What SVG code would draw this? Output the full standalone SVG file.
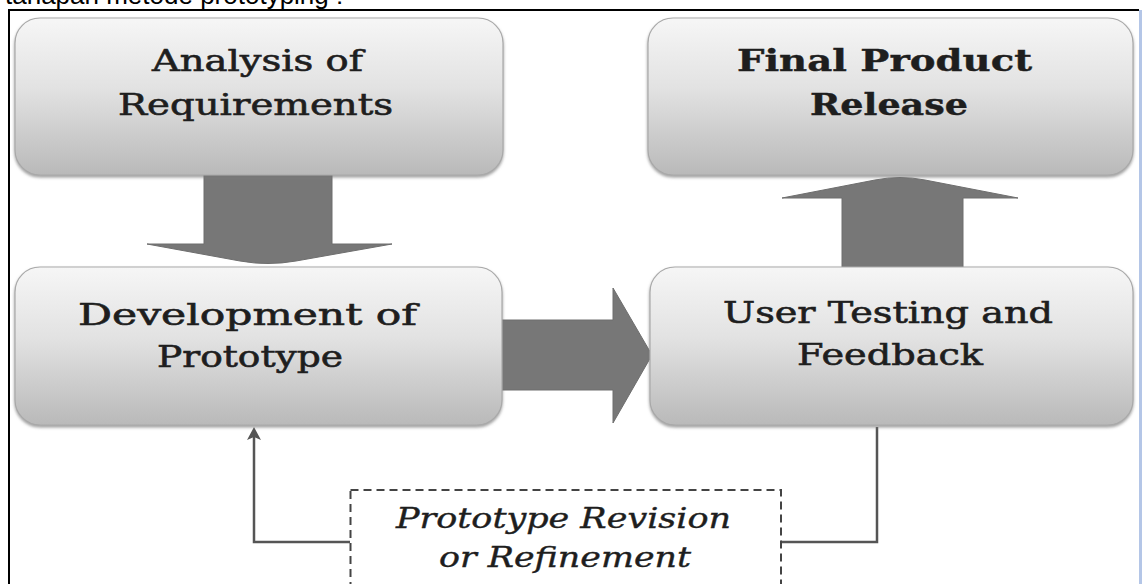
<svg xmlns="http://www.w3.org/2000/svg" width="1143" height="584" viewBox="0 0 1143 584">
  <style>
    .box { fill: url(#boxGrad); stroke: #a9a9a9; stroke-width: 1.2; filter: url(#shadow); }
    .lbl { font-family: "DejaVu Serif", "Liberation Serif", serif; font-size: 29px; fill: #1e1e1e; stroke: #1e1e1e; stroke-width: 0.6; text-anchor: middle; }
    .bold { font-weight: bold; stroke-width: 0.4; }
    .ital { font-style: italic; font-size: 28px; stroke-width: 0.4; }
    .big { fill: #777777; stroke: #6e6e6e; stroke-width: 1; }
    .fb { fill: none; stroke: #555555; stroke-width: 2.5; }
    .head { fill: #555555; }
    .dash { fill: #ffffff; stroke: #444444; stroke-width: 2; stroke-dasharray: 8 5; }
    .cap { font-family: "Liberation Sans", Arial, sans-serif; font-size: 26px; fill: #000000; }
  </style>
  <defs>
    <linearGradient id="boxGrad" x1="0" y1="0" x2="0" y2="1">
      <stop offset="0" stop-color="#f6f6f6"/>
      <stop offset="0.45" stop-color="#e2e2e2"/>
      <stop offset="1" stop-color="#b9b9b9"/>
    </linearGradient>
    <filter id="shadow" x="-5%" y="-5%" width="110%" height="115%">
      <feDropShadow dx="0" dy="2" stdDeviation="1.5" flood-color="#777777" flood-opacity="0.7"/>
    </filter>
  </defs>

  <rect x="0" y="0" width="1143" height="584" fill="#ffffff"/>

  <!-- page caption (clipped at the top, as in the reference) -->
  <text class="cap" x="5" y="4">tahapan metode prototyping :</text>

  <!-- frame -->
  <line x1="8" y1="10" x2="1139" y2="10" stroke="#000000" stroke-width="2"/>
  <line x1="9" y1="9" x2="9" y2="584" stroke="#000000" stroke-width="2"/>
  <line x1="1140.5" y1="10" x2="1140.5" y2="584" stroke="#b4c6e7" stroke-width="3"/>

  <!-- connectors -->
  <g id="connectors">
    <path class="big" d="M204,170 L332,170 L332,244 L392,244 L296,261 Q268,266 240,261 L147,244 L204,244 Z"/>
    <path class="big" d="M782,198 L875,180 Q900,175 925,180 L1018,198 L963,198 L963,272 L842,272 L842,198 Z"/>
    <path class="big" d="M495,320 L613,320 L613,288 L652,355 L613,423 L613,390 L495,390 Z"/>
    <path class="fb" d="M877,427 L877,542 L781,542"/>
    <path class="fb" d="M350,542 L254,542 L254,436"/>
    <path class="head" d="M254,427 L261,440 L254,437 L247,440 Z"/>
  </g>

  <g id="node-analysis">
    <rect class="box" x="15" y="18" width="488" height="157" rx="25"/>
    <text class="lbl" x="257.5" y="71" textLength="211" lengthAdjust="spacingAndGlyphs">Analysis of</text>
    <text class="lbl" x="255.5" y="115" textLength="275" lengthAdjust="spacingAndGlyphs">Requirements</text>
  </g>

  <g id="node-final">
    <rect class="box" x="648" y="18" width="485" height="157" rx="25"/>
    <text class="lbl bold" x="884.5" y="71" textLength="295" lengthAdjust="spacingAndGlyphs">Final Product</text>
    <text class="lbl bold" x="889" y="115" textLength="158" lengthAdjust="spacingAndGlyphs">Release</text>
  </g>

  <g id="node-development">
    <rect class="box" x="15" y="267" width="487" height="158" rx="25"/>
    <text class="lbl" x="247.5" y="325" textLength="339" lengthAdjust="spacingAndGlyphs">Development of</text>
    <text class="lbl" x="250" y="367" textLength="186" lengthAdjust="spacingAndGlyphs">Prototype</text>
  </g>

  <g id="node-testing">
    <rect class="box" x="650" y="267" width="483" height="158" rx="25"/>
    <text class="lbl" x="888" y="323" textLength="330" lengthAdjust="spacingAndGlyphs">User Testing and</text>
    <text class="lbl" x="890" y="365" textLength="186" lengthAdjust="spacingAndGlyphs">Feedback</text>
  </g>

  <g id="node-revision">
    <rect class="dash" x="350.5" y="490" width="430.5" height="120"/>
    <text class="lbl ital" x="563.5" y="528" textLength="335" lengthAdjust="spacingAndGlyphs">Prototype Revision</text>
    <text class="lbl ital" x="565" y="567" textLength="252" lengthAdjust="spacingAndGlyphs">or Refinement</text>
  </g>
</svg>
